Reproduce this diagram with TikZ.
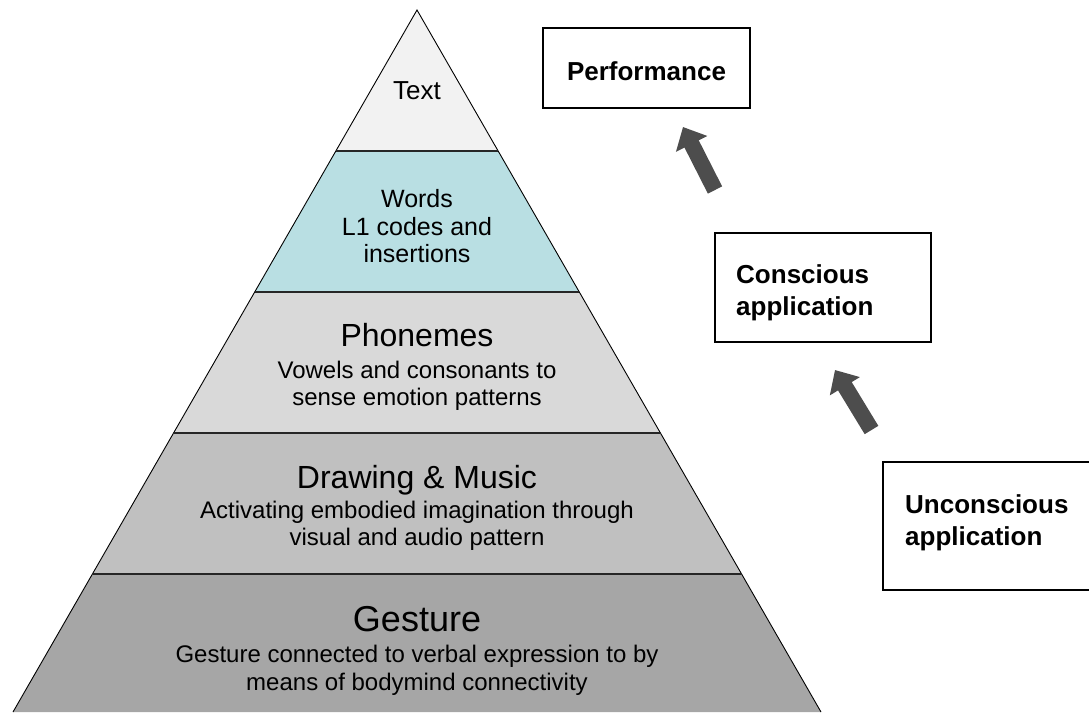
\documentclass[tikz,border=0pt]{standalone}
\usepackage{fontspec}
\setmainfont{Liberation Sans}
\usetikzlibrary{calc,arrows.meta}

\definecolor{textfill}{HTML}{F2F2F2}
\definecolor{wordfill}{HTML}{B9DFE3}
\definecolor{phonfill}{HTML}{D9D9D9}
\definecolor{drawfill}{HTML}{C0C0C0}
\definecolor{gestfill}{HTML}{A6A6A6}
\definecolor{arrowgray}{HTML}{4D4D4D}

\tikzset{
    sepline/.style={line width=2pt, draw=black!85},
    lbl/.style={anchor=base, inner sep=0pt, font=\fontsize{24}{28}\selectfont},
    stagebox/.style={draw, line width=1.5pt, fill=white, inner sep=0pt},
    stagelbl/.style={anchor=base west, inner sep=0pt, font=\bfseries\fontsize{26}{32}\selectfont},
    bigarrow/.style={draw=arrowgray, line width=16pt, -{Triangle[length=19pt,width=34pt]}}
}

\begin{document}
\begin{tikzpicture}[x=1pt, y=-1pt]

                \useasboundingbox (0,0) rectangle (1089,712);
                \clip (0,0) rectangle (1089,712);

                \coordinate (apex) at (417,10);
                \coordinate (bl) at (13,712);
                \coordinate (br) at (821,712);

                \foreach \a/\b/\c in {0/0.201/textfill, 0.201/0.402/wordfill, 0.402/0.603/phonfill, 0.603/0.804/drawfill, 0.804/1/gestfill}
                    \fill[\c] ($(apex)!\a!(bl)$) -- ($(apex)!\b!(bl)$) -- ($(apex)!\b!(br)$) -- ($(apex)!\a!(br)$) -- cycle;

                \draw[line width=0.9pt] (bl) -- (apex) -- (br);
                \foreach \f in {0.201,0.402,0.603,0.804}
                    \draw[sepline] ($(apex)!\f!(bl)$) -- ($(apex)!\f!(br)$);

                \node[lbl, font=\fontsize{26}{30}\selectfont] (text) at (417,99) {Text};

                \node[lbl, font=\fontsize{25}{29}\selectfont] (words) at (417,207) {Words};
                \node[lbl, font=\fontsize{25}{29}\selectfont] (words1) at (417,235) {L1 codes and};
                \node[lbl, font=\fontsize{25}{29}\selectfont] (words2) at (417,262) {insertions};

                \node[lbl, font=\fontsize{32}{36}\selectfont] (phon) at (417,346) {Phonemes};
                \node[lbl] (phon1) at (417,378) {Vowels and consonants to};
                \node[lbl] (phon2) at (417,405) {sense emotion patterns};

                \node[lbl, font=\fontsize{32}{36}\selectfont] (draw) at (417,488) {Drawing \& Music};
                \node[lbl] (draw1) at (417,518) {Activating embodied imagination through};
                \node[lbl] (draw2) at (417,545) {visual and audio pattern};

                \node[lbl, font=\fontsize{36}{40}\selectfont] (gest) at (417,631) {Gesture};
                \node[lbl] (gest1) at (417,662) {Gesture connected to verbal expression to by};
                \node[lbl] (gest2) at (417,690) {means of bodymind connectivity};

                \node[stagebox, minimum width=207pt, minimum height=80pt] (perf) at (646.5,68) {};
                \node[stagelbl, anchor=base] (perf1) at (646.5,80) {Performance};

                \node[stagebox, minimum width=216pt, minimum height=109pt] (consc) at (823,287.5) {};
                \node[stagelbl] (consc1) at (736,283) {Conscious};
                \node[stagelbl] (consc2) at (736,315) {application};

                \node[stagebox, minimum width=224pt, minimum height=128pt] (unconsc) at (995,526) {};
                \node[stagelbl] (unconsc1) at (905,513) {Unconscious};
                \node[stagelbl] (unconsc2) at (905,545) {application};

                \coordinate (up1tail) at (715,190);
                \coordinate (up1tip) at (683,127);
                \coordinate (up2tail) at (871.5,430);
                \coordinate (up2tip) at (835,370);

                \draw[bigarrow] (up1tail) -- (up1tip);
                \draw[bigarrow] (up2tail) -- (up2tip);

\end{tikzpicture}
\end{document}
